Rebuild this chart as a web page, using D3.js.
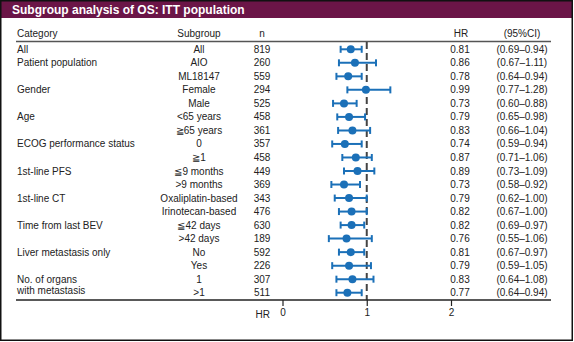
<!DOCTYPE html>
<html><head><meta charset="utf-8">
<script src="https://cdn.jsdelivr.net/npm/d3@7"></script>
<style>body{margin:0;background:#fff}svg{display:block}text{font-family:"Liberation Sans",Arial,sans-serif}</style>
</head><body><svg id="c" width="574" height="342"></svg>
<script>
const categories = ["All","Patient population","","Gender","","Age","","ECOG performance status","","1st-line PFS","","1st-line CT","","Time from last BEV","","Liver metastasis only","","No. of organs\nwith metastasis",""];
const subgroups = ["All","AIO","ML18147","Female","Male","<65 years","≧65 years","0","≧1","≦9 months",">9 months","Oxaliplatin-based","Irinotecan-based","≦42 days",">42 days","No","Yes","1",">1"];
const nValues = [819,260,559,294,525,458,361,357,458,449,369,343,476,630,189,592,226,307,511];
const hrValues = [0.81,0.86,0.78,0.99,0.73,0.79,0.83,0.74,0.87,0.89,0.73,0.79,0.82,0.82,0.76,0.81,0.79,0.83,0.77];
const ciLower = [0.69,0.67,0.64,0.77,0.60,0.65,0.66,0.59,0.71,0.73,0.58,0.62,0.67,0.69,0.55,0.67,0.59,0.64,0.64];
const ciUpper = [0.94,1.11,0.94,1.28,0.88,0.98,1.04,0.94,1.06,1.09,0.92,1.00,1.00,0.97,1.06,0.97,1.05,1.08,0.94];
const xTicks = [0,1,2];

const svg = d3.select("#c");
const fmt = d3.format(".2f");
const x = d3.scaleLinear().domain([0,2]).range([282.5,451]);
const y = d3.scalePoint().domain(d3.range(subgroups.length)).range([49.3,292.7]);
const blue = "#1b70b8";

svg.append("rect").attr("x",0).attr("y",0).attr("width",573).attr("height",18).attr("fill","#6b1547");
svg.append("text").attr("x",12).attr("y",14).attr("fill","#fff").attr("font-size",12).attr("font-weight","bold")
  .text("Subgroup analysis of OS: ITT population");
svg.append("rect").attr("x",0.75).attr("y",0.75).attr("width",571.5).attr("height",339.5).attr("fill","none").attr("stroke","#111").attr("stroke-width",1.5);

const hdr = svg.append("g").attr("font-size",10).attr("fill","#222");
hdr.append("text").attr("x",17).attr("y",37).text("Category");
hdr.append("text").attr("x",199).attr("y",37).attr("text-anchor","middle").text("Subgroup");
hdr.append("text").attr("x",262).attr("y",37).attr("text-anchor","middle").text("n");
hdr.append("text").attr("x",461).attr("y",37).attr("text-anchor","middle").text("HR");
hdr.append("text").attr("x",522).attr("y",37).attr("text-anchor","middle").text("(95%CI)");

svg.append("line").attr("x1",16).attr("x2",551).attr("y1",41.5).attr("y2",41.5).attr("stroke","#555").attr("stroke-width",1.5);

// reference line
svg.append("line").attr("x1",x(1)).attr("x2",x(1)).attr("y1",42).attr("y2",300)
  .attr("stroke","#444").attr("stroke-width",2).attr("stroke-dasharray","7,4");

const rows = svg.append("g").attr("font-size",10).attr("fill","#222");
subgroups.forEach((s,i)=>{
  const yy = y(i);
  const cat = categories[i];
  if (cat) {
    const lines = cat.split("\n");
    const off = lines.length > 1 ? 0.2 : 0;
    lines.forEach((ln,k)=>{
      rows.append("text").attr("x",17).attr("y",yy+off+k*11.2).attr("dy","0.35em").text(ln);
    });
  }
  rows.append("text").attr("x",199).attr("y",yy).attr("dy","0.35em").attr("text-anchor","middle").text(s);
  rows.append("text").attr("x",262).attr("y",yy).attr("dy","0.35em").attr("text-anchor","middle").text(nValues[i]);
  rows.append("text").attr("x",460).attr("y",yy).attr("dy","0.35em").attr("text-anchor","middle").text(fmt(hrValues[i]));
  rows.append("text").attr("x",522).attr("y",yy).attr("dy","0.35em").attr("text-anchor","middle")
    .text("(" + fmt(ciLower[i]) + "–" + fmt(ciUpper[i]) + ")");
});

const bars = svg.append("g").attr("stroke",blue).attr("stroke-width",2);
subgroups.forEach((s,i)=>{
  const yy = y(i);
  bars.append("line").attr("x1",x(ciLower[i])).attr("x2",x(ciUpper[i])).attr("y1",yy).attr("y2",yy);
  bars.append("line").attr("x1",x(ciLower[i])).attr("x2",x(ciLower[i])).attr("y1",yy-3.5).attr("y2",yy+3.5);
  bars.append("line").attr("x1",x(ciUpper[i])).attr("x2",x(ciUpper[i])).attr("y1",yy-3.5).attr("y2",yy+3.5);
  svg.append("circle").attr("cx",x(hrValues[i])).attr("cy",yy).attr("r",4).attr("fill",blue);
});

// bottom axis
svg.append("line").attr("x1",16).attr("x2",551).attr("y1",300).attr("y2",300).attr("stroke","#222").attr("stroke-width",1.5);
const ax = svg.append("g").attr("transform","translate(0,300)")
  .call(d3.axisBottom(x).tickValues(xTicks).tickSize(6).tickPadding(3).tickFormat(d3.format("d")));
ax.select(".domain").remove();
ax.selectAll("line").attr("stroke","#222").attr("stroke-width",1.2);
ax.selectAll("text").attr("font-size",10).attr("fill","#222").attr("font-family","Liberation Sans, Arial, sans-serif");
svg.append("text").attr("x",270).attr("y",318).attr("text-anchor","end").attr("font-size",10).attr("fill","#222").text("HR");
</script></body></html>
